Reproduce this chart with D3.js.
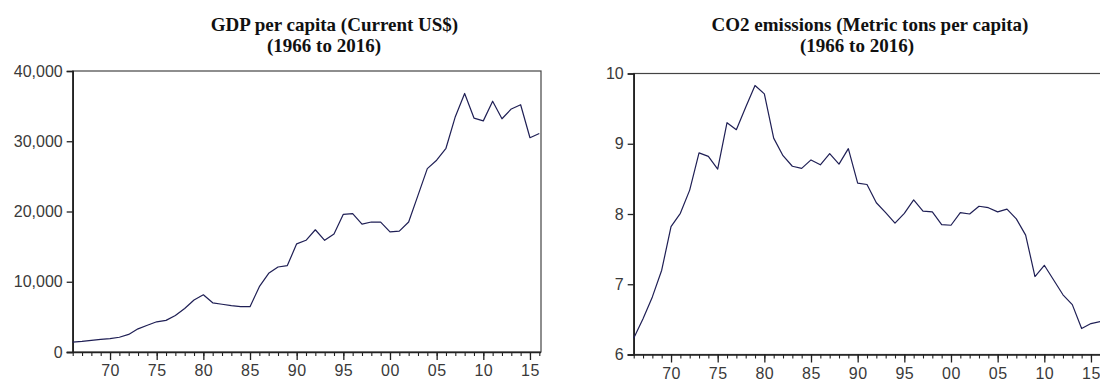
<!DOCTYPE html>
<html>
<head>
<meta charset="utf-8">
<script src="https://cdn.jsdelivr.net/npm/d3@7"></script>
<style>
  html, body { margin: 0; padding: 0; background: #fff; }
  svg { display: block; }
</style>
</head>
<body>
<svg id="chart" width="1100" height="379"></svg>
<script>
const years = d3.range(1966, 2017);

const gdpPerCapita = [
  1400, 1500, 1650, 1800, 1900, 2100, 2500, 3300, 3800, 4300,
  4500, 5200, 6200, 7400, 8150, 7000, 6800, 6600, 6450, 6450,
  9300, 11200, 12100, 12300, 15400, 15900, 17400, 15900, 16800, 19600,
  19700, 18200, 18500, 18500, 17100, 17200, 18500, 22300, 26100, 27300,
  29000, 33500, 36800, 33300, 32900, 35700, 33200, 34600, 35200, 30500,
  31100
];

const co2PerCapita = [
  6.23, 6.51, 6.82, 7.20, 7.82, 8.01, 8.34, 8.87, 8.82, 8.64,
  9.30, 9.20, 9.52, 9.83, 9.71, 9.08, 8.83, 8.68, 8.65, 8.77,
  8.70, 8.86, 8.71, 8.93, 8.44, 8.42, 8.16, 8.02, 7.87, 8.01,
  8.20, 8.04, 8.03, 7.85, 7.84, 8.02, 8.00, 8.11, 8.09, 8.03,
  8.07, 7.93, 7.70, 7.11, 7.27, 7.06, 6.85, 6.71, 6.37, 6.44,
  6.47
];

const gdpTicks = [0, 10000, 20000, 30000, 40000];
const co2Ticks = [6, 7, 8, 9, 10];
const majorYears = [1970, 1975, 1980, 1985, 1990, 1995, 2000, 2005, 2010, 2015];

const gdpTitle = ["GDP per capita (Current US$)", "(1966 to 2016)"];
const co2Title = ["CO2 emissions (Metric tons per capita)", "(1966 to 2016)"];

const svg = d3.select("#chart");

function panel(cfg) {
  const g = svg.append("g");
  const x = d3.scaleLinear().domain([1966, 2016]).range([cfg.left, cfg.right]);
  const y = d3.scaleLinear().domain(cfg.domain).range([cfg.bottom, cfg.top]);

  // titles
  g.append("text")
    .attr("x", cfg.t1x).attr("y", 31)
    .attr("text-anchor", "middle")
    .style("font-family", "'Liberation Serif', 'Times New Roman', serif")
    .style("font-weight", "bold").style("font-size", "19px").attr("fill", "#111")
    .text(cfg.title[0]);
  g.append("text")
    .attr("x", cfg.t2x).attr("y", 52)
    .attr("text-anchor", "middle")
    .style("font-family", "'Liberation Serif', 'Times New Roman', serif")
    .style("font-weight", "bold").style("font-size", "19px").attr("fill", "#111")
    .text(cfg.title[1]);

  // frame (top and right)
  g.append("rect")
    .attr("x", cfg.left).attr("y", cfg.top)
    .attr("width", cfg.frameRight - cfg.left).attr("height", cfg.bottom - cfg.top)
    .attr("fill", "none").attr("stroke", "#444").attr("stroke-width", 1.2);

  // y axis
  const yAxis = d3.axisLeft(y).tickValues(cfg.yTicks).tickSize(6).tickPadding(4)
    .tickFormat(cfg.yFormat);
  const ya = g.append("g").attr("transform", `translate(${cfg.left},0)`).call(yAxis);
  ya.select(".domain").attr("stroke", "#222").attr("stroke-width", 1.6);
  ya.selectAll(".tick line").attr("stroke", "#222").attr("stroke-width", 1.3);
  ya.selectAll(".tick text")
    .style("font-family", "'Liberation Sans', Arial, sans-serif")
    .style("font-size", "16px").attr("fill", "#3a3a3a");

  // x axis minor ticks
  const xMinor = d3.axisBottom(x).tickValues(years).tickSize(4).tickFormat("");
  const xm = g.append("g").attr("transform", `translate(0,${cfg.bottom})`).call(xMinor);
  xm.select(".domain").remove();
  xm.selectAll(".tick line").attr("stroke", "#222").attr("stroke-width", 1.1);

  // x axis major ticks
  const xMajor = d3.axisBottom(x).tickValues(majorYears).tickSize(8).tickPadding(5)
    .tickSizeOuter(0)
    .tickFormat(d => d3.format("02d")(d % 100));
  const xa = g.append("g").attr("transform", `translate(0,${cfg.bottom})`).call(xMajor);
  xa.select(".domain").attr("stroke", "#222").attr("stroke-width", 1.6)
    .attr("d", `M${cfg.left - 6},0.5H${cfg.frameRight}`);
  xa.selectAll(".tick line").attr("stroke", "#222").attr("stroke-width", 1.3);
  xa.selectAll(".tick text")
    .style("font-family", "'Liberation Sans', Arial, sans-serif")
    .style("font-size", "16px").style("letter-spacing", "0.5px").attr("fill", "#3a3a3a");

  // series line
  const line = d3.line().x((d, i) => x(years[i])).y(d => y(d));
  g.append("path").datum(cfg.values)
    .attr("d", line)
    .attr("fill", "none")
    .attr("stroke", "#1f1f55")
    .attr("stroke-width", 1.2)
    .attr("stroke-linejoin", "round");
}

panel({
  left: 72.7, right: 539.3, frameRight: 541, top: 71, bottom: 352,
  domain: [0, 40000], yTicks: gdpTicks, yFormat: d3.format(","),
  values: gdpPerCapita, title: gdpTitle, t1x: 334.5, t2x: 324
});

panel({
  left: 633.7, right: 1100.3, frameRight: 1102, top: 73.5, bottom: 354.5,
  domain: [6, 10], yTicks: co2Ticks, yFormat: d3.format("d"),
  values: co2PerCapita, title: co2Title, t1x: 870, t2x: 857
});
</script>
</body>
</html>
